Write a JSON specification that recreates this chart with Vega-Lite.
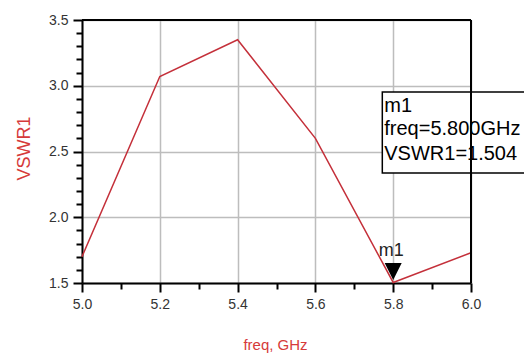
{
  "$schema": "https://vega.github.io/schema/vega-lite/v6.json",
  "width": 389,
  "height": 263,
  "autosize": "none",
  "padding": {"left": 82, "top": 20, "right": 53, "bottom": 73},
  "background": "white",
  "config": {"view": {"stroke": null}, "font": "Liberation Sans"},
  "datasets": {
    "curve": [
      {"freq": 5.0, "vswr": 1.70},
      {"freq": 5.2, "vswr": 3.07},
      {"freq": 5.4, "vswr": 3.35},
      {"freq": 5.6, "vswr": 2.60},
      {"freq": 5.8, "vswr": 1.504},
      {"freq": 6.0, "vswr": 1.73}
    ],
    "marker": [{"freq": 5.8, "vswr": 1.504, "label": "m1"}],
    "box": [{"x1": 5.772, "x2": 6.45, "y1": 2.337, "y2": 2.952}],
    "boxtext": [
      {"freq": 5.777, "vswr": 2.80, "text": "m1"},
      {"freq": 5.777, "vswr": 2.625, "text": "freq=5.800GHz"},
      {"freq": 5.777, "vswr": 2.435, "text": "VSWR1=1.504"}
    ],
    "border": [
      {"x1": 5.0, "x2": 6.0, "y1": 3.5, "y2": 3.5},
      {"x1": 6.0, "x2": 6.0, "y1": 1.5, "y2": 3.5}
    ]
  },
  "resolve": {"axis": {"x": "independent", "y": "independent"}},
  "layer": [
    {
      "data": {"name": "curve"},
      "mark": {"type": "line", "color": "#c4303a", "strokeWidth": 1.5, "clip": false},
      "encoding": {
        "x": {
          "field": "freq", "type": "quantitative",
          "scale": {"domain": [5.0, 6.0], "nice": false, "zero": false},
          "axis": {
            "orient": "bottom",
            "values": [5.0, 5.2, 5.4, 5.6, 5.8, 6.0],
            "format": ".1f",
            "labelOverlap": false,
            "labelFlush": false,
            "grid": true,
            "gridColor": "#bdbdbd",
            "gridWidth": 1.5,
            "tickSize": 9,
            "tickColor": "black",
            "tickWidth": 2,
            "domainColor": "black",
            "domainWidth": 2,
            "labelFontSize": 14,
            "labelColor": "#333333",
            "labelPadding": 5,
            "title": "freq, GHz",
            "titleColor": "#d63a3a",
            "titleFontSize": 15,
            "titleFontWeight": "normal",
            "titleX": 193,
            "titleY": 61,
            "titleBaseline": "middle"
          }
        },
        "y": {
          "field": "vswr", "type": "quantitative",
          "scale": {"domain": [1.5, 3.5], "nice": false, "zero": false},
          "axis": {
            "orient": "left",
            "values": [1.5, 2.0, 2.5, 3.0, 3.5],
            "format": ".1f",
            "labelOverlap": false,
            "labelFlush": false,
            "grid": true,
            "gridColor": "#bdbdbd",
            "gridWidth": 1.5,
            "tickSize": 9,
            "tickColor": "black",
            "tickWidth": 2,
            "domainColor": "black",
            "domainWidth": 2,
            "labelFontSize": 14,
            "labelColor": "#333333",
            "labelPadding": 5,
            "title": "VSWR1",
            "titleColor": "#d63a3a",
            "titleFontSize": 18,
            "titleFontWeight": "normal",
            "titleX": -58,
            "titleY": 128,
            "titleAngle": -90,
            "titleAlign": "center",
            "titleBaseline": "middle"
          }
        }
      }
    },
    {
      "data": {"name": "box"},
      "mark": {"type": "rect", "fill": "white", "stroke": "black", "strokeWidth": 1.5, "clip": false},
      "encoding": {
        "x": {"field": "x1", "type": "quantitative", "axis": null},
        "x2": {"field": "x2"},
        "y": {"field": "y1", "type": "quantitative", "axis": null},
        "y2": {"field": "y2"}
      }
    },
    {
      "data": {"name": "border"},
      "mark": {"type": "rule", "color": "black", "strokeWidth": 2, "clip": false},
      "encoding": {
        "x": {
          "field": "x1", "type": "quantitative",
          "axis": {
            "orient": "bottom",
            "values": [5.1, 5.3, 5.5, 5.7, 5.9],
            "labels": false, "grid": false, "domain": false,
            "tickSize": 6, "tickColor": "black", "tickWidth": 2,
            "title": null
          }
        },
        "x2": {"field": "x2"},
        "y": {
          "field": "y1", "type": "quantitative",
          "axis": {
            "orient": "left",
            "values": [1.6, 1.7, 1.8, 1.9, 2.1, 2.2, 2.3, 2.4, 2.6, 2.7, 2.8, 2.9, 3.1, 3.2, 3.3, 3.4],
            "labels": false, "grid": false, "domain": false,
            "tickSize": 6, "tickColor": "black", "tickWidth": 2,
            "title": null
          }
        },
        "y2": {"field": "y2"}
      }
    },
    {
      "data": {"name": "boxtext"},
      "mark": {"type": "text", "align": "left", "baseline": "alphabetic", "fontSize": 20, "color": "black", "clip": false},
      "encoding": {
        "x": {"field": "freq", "type": "quantitative", "axis": null},
        "y": {"field": "vswr", "type": "quantitative", "axis": null},
        "text": {"field": "text"}
      }
    },
    {
      "data": {"name": "marker"},
      "mark": {"type": "point", "shape": "M-1,-1L1,-1L0,1Z", "size": 289, "filled": true, "color": "black", "opacity": 1, "yOffset": -11},
      "encoding": {
        "x": {"field": "freq", "type": "quantitative", "axis": null},
        "y": {"field": "vswr", "type": "quantitative", "axis": null}
      }
    },
    {
      "data": {"name": "marker"},
      "mark": {"type": "text", "align": "center", "baseline": "alphabetic", "fontSize": 18, "color": "#222222", "dx": -2, "dy": -26},
      "encoding": {
        "x": {"field": "freq", "type": "quantitative", "axis": null},
        "y": {"field": "vswr", "type": "quantitative", "axis": null},
        "text": {"field": "label"}
      }
    }
  ]
}
